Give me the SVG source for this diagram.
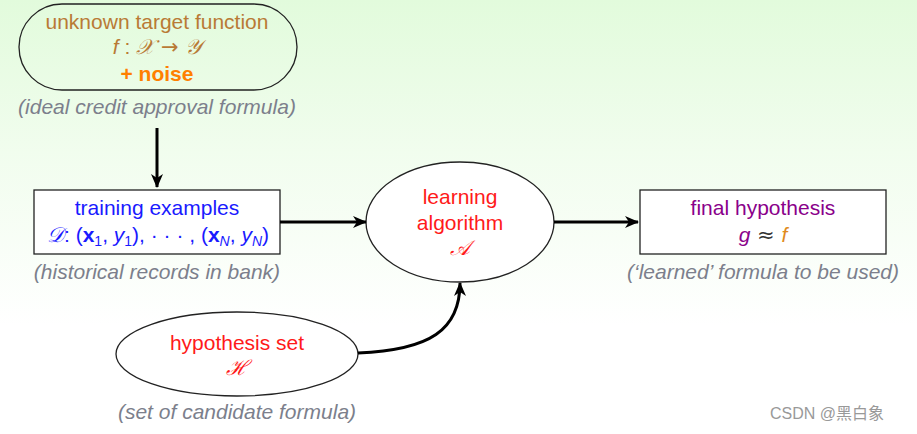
<svg xmlns="http://www.w3.org/2000/svg" width="917" height="434" viewBox="0 0 917 434">
<defs>
<linearGradient id="bg" x1="0" y1="0" x2="0" y2="1">
<stop offset="0" stop-color="#e2fbdc"/>
<stop offset="0.35" stop-color="#f1fdee"/>
<stop offset="0.75" stop-color="#ffffff"/>
</linearGradient>
<marker id="ah" markerWidth="14" markerHeight="12" refX="13" refY="6" orient="auto" markerUnits="userSpaceOnUse">
<path d="M0,0 L14,6 L0,12 L4,6 Z" fill="#000"/>
</marker>
<style>
.t{font-family:"Liberation Sans",Arial,sans-serif;font-size:21px;text-anchor:middle}
.m{font-family:"Liberation Sans",Arial,sans-serif;font-size:21px;text-anchor:middle;font-style:italic}
.c{font-family:"Liberation Serif","DejaVu Serif",serif;font-style:italic}
.s{font-family:"DejaVu Sans",sans-serif;font-style:normal}
.note{font-family:"Liberation Sans",Arial,sans-serif;font-size:21px;font-style:italic;fill:#7c7f8c;text-anchor:middle}
.shape{fill:#fff;stroke:#222;stroke-width:1.3}
.conn{fill:none;stroke:#000;stroke-width:3}
</style>
</defs>
<rect width="917" height="434" fill="url(#bg)"/>
<g id="target">
<rect x="19" y="4" width="278" height="86" rx="43" ry="43" fill="none" stroke="#222" stroke-width="1.3"/>
<text class="t" x="157" y="29" fill="#b97a35">unknown target function</text>
<text class="m" x="157" y="54" fill="#b97a35">f<tspan font-style="normal"> : </tspan><tspan class="c">𝒳</tspan><tspan class="s"> → </tspan><tspan class="c">𝒴</tspan></text>
<text class="t" x="157" y="81" fill="#ff8000" font-weight="bold">+ noise</text>
<text class="note" x="157" y="114">(ideal credit approval formula)</text>
</g>
<g id="training">
<rect class="shape" x="34" y="190" width="246" height="64"/>
<text class="t" x="157" y="215" fill="#1a1aff">training examples</text>
<text class="m" x="158" y="242" fill="#1a1aff"><tspan class="c">𝒟</tspan><tspan font-style="normal">: (</tspan><tspan font-weight="bold" font-style="normal">x</tspan><tspan font-size="14" font-style="normal" dy="4">1</tspan><tspan dy="-4" font-style="normal">, </tspan>y<tspan font-size="14" font-style="normal" dy="4">1</tspan><tspan dy="-4" font-style="normal">), · · · , (</tspan><tspan font-weight="bold" font-style="normal">x</tspan><tspan font-size="14" dy="4">N</tspan><tspan dy="-4" font-style="normal">, </tspan>y<tspan font-size="14" dy="4">N</tspan><tspan dy="-4" font-style="normal">)</tspan></text>
<text class="note" x="157" y="279">(historical records in bank)</text>
</g>
<g id="algorithm">
<ellipse class="shape" cx="460" cy="222" rx="94" ry="60"/>
<text class="t" x="460" y="204" fill="#ff1a1a">learning</text>
<text class="t" x="460" y="230" fill="#ff1a1a">algorithm</text>
<text class="m" x="460" y="255" fill="#ff1a1a"><tspan class="c">𝒜</tspan></text>
</g>
<g id="final">
<rect class="shape" x="640" y="190" width="246" height="64"/>
<text class="t" x="763" y="215" fill="#8a008a">final hypothesis</text>
<text class="m" x="763" y="242"><tspan fill="#8a008a">g</tspan><tspan class="s" fill="#333"> ≈ </tspan><tspan fill="#e08a20">f</tspan></text>
<text class="note" x="763" y="279">(‘learned’ formula to be used)</text>
</g>
<g id="hypothesis">
<ellipse class="shape" cx="237" cy="354" rx="121" ry="42"/>
<text class="t" x="237" y="350" fill="#ff1a1a">hypothesis set</text>
<text class="m" x="237" y="375" fill="#ff1a1a"><tspan class="c">ℋ</tspan></text>
<text class="note" x="237" y="419">(set of candidate formula)</text>
</g>
<g id="connectors">
<path class="conn" d="M157,128 L157,187" marker-end="url(#ah)"/>
<path class="conn" d="M280,222 L366,222" marker-end="url(#ah)"/>
<path class="conn" d="M554,222 L638,222" marker-end="url(#ah)"/>
<path class="conn" d="M358,353 C430,350 460,330 460,283" marker-end="url(#ah)"/>
</g>
<text x="770" y="419" font-family="'Liberation Sans','Noto Sans CJK SC',sans-serif" font-size="16" fill="#999">CSDN @黑白象</text>
</svg>
